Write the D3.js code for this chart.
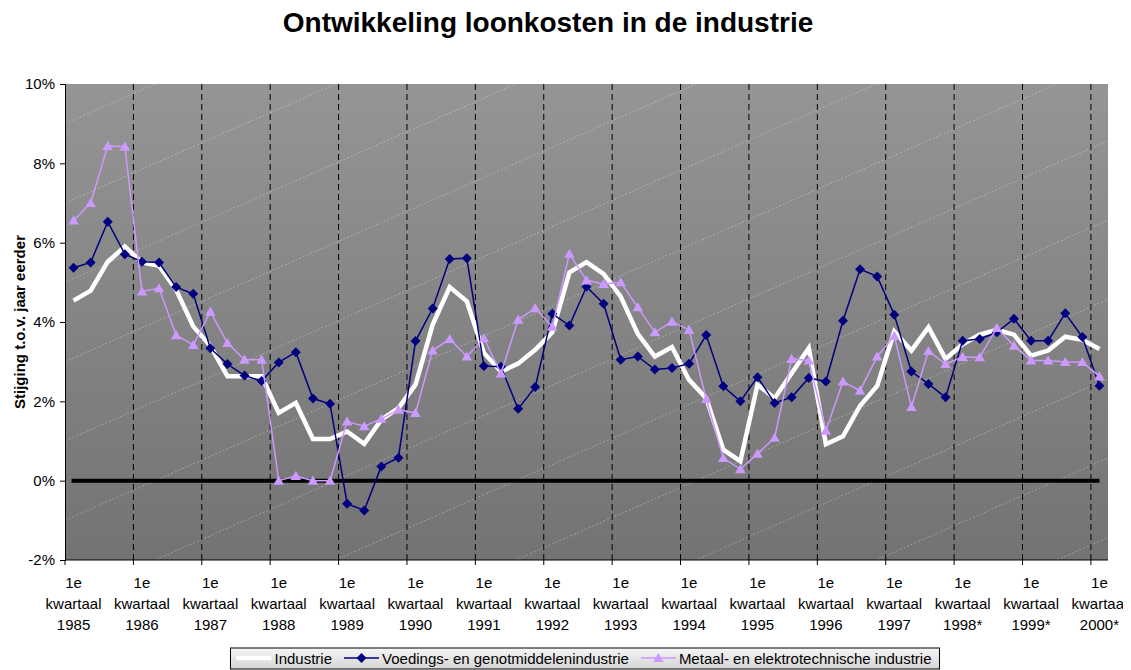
<!DOCTYPE html>
<html lang="nl">
<head>
<meta charset="UTF-8">
<title>Ontwikkeling loonkosten in de industrie</title>
<script src="https://cdnjs.cloudflare.com/ajax/libs/d3/7.8.5/d3.min.js"></script>
<style>
  html, body { margin: 0; padding: 0; background: #fff; }
  svg { display: block; font-family: "Liberation Sans", Arial, sans-serif; }
</style>
</head>
<body>
<svg id="chart" width="1131" height="670"></svg>
<script>
// --- data ---
const yearLabels = ["1985", "1986", "1987", "1988", "1989", "1990", "1991", "1992",
                    "1993", "1994", "1995", "1996", "1997", "1998*", "1999*", "2000*"];
const quarters = d3.range(61); // 1e kwartaal 1985 .. 1e kwartaal 2000

const industrie = [
  4.54, 4.79, 5.52, 5.90, 5.50, 5.42, 4.81, 3.89, 3.40, 2.63,
  2.63, 2.63, 1.71, 1.96, 1.05, 1.05, 1.24, 0.93, 1.54, 1.83,
  2.42, 3.93, 4.88, 4.52, 3.22, 2.75, 2.95, 3.30, 3.74, 5.25,
  5.51, 5.21, 4.64, 3.70, 3.13, 3.37, 2.54, 2.08, 0.78, 0.49,
  2.42, 2.08, 2.71, 3.34, 0.92, 1.12, 1.89, 2.39, 3.76, 3.28,
  3.87, 3.07, 3.44, 3.68, 3.80, 3.68, 3.15, 3.28, 3.63, 3.55, 3.32
];
const voedings = [
  5.37, 5.50, 6.53, 5.71, 5.52, 5.50, 4.88, 4.71, 3.34, 2.94,
  2.65, 2.51, 2.98, 3.24, 2.07, 1.94, -0.58, -0.75, 0.36, 0.58,
  3.52, 4.34, 5.59, 5.61, 2.89, 2.87, 1.81, 2.36, 4.21, 3.91,
  4.89, 4.46, 3.05, 3.13, 2.80, 2.84, 2.95, 3.67, 2.38, 2.00,
  2.61, 1.96, 2.10, 2.59, 2.50, 4.03, 5.33, 5.15, 4.18, 2.75,
  2.44, 2.10, 3.53, 3.57, 3.74, 4.08, 3.53, 3.53, 4.22, 3.62, 2.39
];
const metaal = [
  6.56, 7.00, 8.44, 8.42, 4.77, 4.85, 3.67, 3.42, 4.26, 3.47,
  3.05, 3.05, 0.00, 0.12, 0.00, 0.00, 1.49, 1.37, 1.56, 1.79,
  1.71, 3.28, 3.57, 3.13, 3.59, 2.70, 4.06, 4.35, 3.88, 5.72,
  5.05, 4.96, 5.00, 4.37, 3.74, 4.01, 3.80, 2.06, 0.57, 0.29,
  0.68, 1.08, 3.07, 3.03, 1.26, 2.50, 2.27, 3.13, 3.65, 1.86,
  3.27, 2.94, 3.12, 3.11, 3.85, 3.40, 3.03, 3.03, 2.99, 2.99, 2.63
];
const yTicks = [-2, 0, 2, 4, 6, 8, 10];

const series = [
  { name: "Industrie", values: industrie, color: "#ffffff", width: 4.5, marker: null },
  { name: "Voedings- en genotmiddelenindustrie", values: voedings, color: "#000080", width: 1.5, marker: "diamond" },
  { name: "Metaal- en elektrotechnische industrie", values: metaal, color: "#cc99ff", width: 1.5, marker: "triangle" }
];

// --- layout ---
const svg = d3.select("#chart");
const plotLeft = 65, plotRight = 1108, plotTop = 84, plotBottom = 560;
const fontSize = 15;

const x = d3.scaleBand().domain(quarters).range([plotLeft, plotRight]).padding(0);
const cx = i => x(i) + x.bandwidth() / 2;
const y = d3.scaleLinear().domain([-2, 10]).range([plotBottom, plotTop]);

const defs = svg.append("defs");
const bg = defs.append("linearGradient").attr("id", "plotbg")
  .attr("x1", 0).attr("y1", 0).attr("x2", 0).attr("y2", 1);
bg.append("stop").attr("offset", "0%").attr("stop-color", "#959595");
bg.append("stop").attr("offset", "100%").attr("stop-color", "#737373");

const lg = defs.append("linearGradient").attr("id", "legbg")
  .attr("x1", 0).attr("y1", 0).attr("x2", 0).attr("y2", 1);
lg.append("stop").attr("offset", "0%").attr("stop-color", "#f6f6f6");
lg.append("stop").attr("offset", "100%").attr("stop-color", "#d4d4d4");

defs.append("clipPath").attr("id", "plotclip")
  .append("rect").attr("x", plotLeft).attr("y", plotTop)
  .attr("width", plotRight - plotLeft).attr("height", plotBottom - plotTop);
defs.append("clipPath").attr("id", "labelclip")
  .append("rect").attr("x", 0).attr("y", 0).attr("width", 1123).attr("height", 670);

// title
svg.append("text")
  .attr("x", 548).attr("y", 32)
  .attr("text-anchor", "middle")
  .attr("font-size", 28).attr("font-weight", "bold")
  .text("Ontwikkeling loonkosten in de industrie");

// plot background
svg.append("rect")
  .attr("x", plotLeft).attr("y", plotTop)
  .attr("width", plotRight - plotLeft).attr("height", plotBottom - plotTop)
  .attr("fill", "url(#plotbg)");

// faint diagonal texture lines
const texture = svg.append("g").attr("clip-path", "url(#plotclip)");
d3.range(-14, 10, 2).forEach(p => {
  const y0 = y(p + 1);
  texture.append("line")
    .attr("x1", plotLeft).attr("y1", y0)
    .attr("x2", plotRight).attr("y2", y0 - 0.44 * (plotRight - plotLeft))
    .attr("stroke", "rgba(255,255,255,0.38)")
    .attr("stroke-width", 0.8)
    .attr("stroke-dasharray", "2,2");
});

// dashed vertical gridlines every year
const yearStarts = quarters.filter(i => i % 4 === 0 && i > 0);
svg.append("g").selectAll("line").data(yearStarts).join("line")
  .attr("x1", d => x(d)).attr("x2", d => x(d))
  .attr("y1", plotTop).attr("y2", plotBottom)
  .attr("stroke", "#000").attr("stroke-width", 1)
  .attr("stroke-dasharray", "6,4");

// y axis
const yAxis = svg.append("g")
  .attr("transform", `translate(${plotLeft},0)`)
  .call(d3.axisLeft(y).tickValues(yTicks).tickSize(5).tickPadding(5).tickFormat(d => d + "%"));
yAxis.select(".domain").attr("stroke", "#000");
yAxis.selectAll("text").attr("font-size", fontSize).attr("fill", "#000")
  .attr("font-family", "Liberation Sans, Arial, sans-serif");

// x axis line and tick marks at year boundaries
svg.append("line")
  .attr("x1", plotLeft).attr("x2", plotRight).attr("y1", plotBottom).attr("y2", plotBottom)
  .attr("stroke", "#000");
svg.append("g").selectAll("line").data(quarters.filter(i => i % 4 === 0)).join("line")
  .attr("x1", d => x(d)).attr("x2", d => x(d))
  .attr("y1", plotBottom).attr("y2", plotBottom + 5)
  .attr("stroke", "#000");

// x labels (first quarter of each year)
const xl = svg.append("g").attr("clip-path", "url(#labelclip)")
  .selectAll("text").data(yearLabels).join("text")
  .attr("x", (d, k) => cx(k * 4))
  .attr("y", 588)
  .attr("text-anchor", "middle")
  .attr("font-size", fontSize);
xl.append("tspan").attr("x", (d, k) => cx(k * 4)).attr("dy", 0).text("1e");
xl.append("tspan").attr("x", (d, k) => cx(k * 4)).attr("dy", 21).text("kwartaal");
xl.append("tspan").attr("x", (d, k) => cx(k * 4)).attr("dy", 21).text(d => d);

// y axis title
svg.append("text")
  .attr("transform", `translate(25,${(plotTop + plotBottom) / 2}) rotate(-90)`)
  .attr("text-anchor", "middle")
  .attr("font-size", fontSize).attr("font-weight", "bold")
  .text("Stijging t.o.v. jaar eerder");

// zero line
svg.append("line")
  .attr("x1", cx(0) - 2).attr("x2", cx(quarters.length - 1))
  .attr("y1", y(0)).attr("y2", y(0))
  .attr("stroke", "#000").attr("stroke-width", 4);

// series
const line = d3.line().x((d, i) => cx(i)).y(d => y(d));
const diamond = d3.symbol(d3.symbolSquare, 50);
const triangle = d3.symbol(d3.symbolTriangle, 48);

function drawMarker(sel, s) {
  if (s.marker === "diamond") {
    sel.attr("d", diamond).attr("transform", (d, i) => `translate(${cx(i)},${y(d)}) rotate(45)`);
  } else {
    sel.attr("d", triangle).attr("transform", (d, i) => `translate(${cx(i)},${y(d) + 1})`);
  }
  sel.attr("fill", s.color);
}

series.forEach(s => {
  svg.append("path")
    .datum(s.values)
    .attr("fill", "none")
    .attr("stroke", s.color)
    .attr("stroke-width", s.width)
    .attr("stroke-linejoin", "miter")
    .attr("d", line);
  if (s.marker) {
    svg.append("g").selectAll("path").data(s.values).join("path").call(drawMarker, s);
  }
});

// legend
const legend = svg.append("g");
const legBox = legend.append("rect")
  .attr("y", 648).attr("height", 21)
  .attr("fill", "url(#legbg)").attr("stroke", "#000").attr("stroke-width", 1);
let lx = 0;
const items = legend.append("g");
series.forEach(s => {
  const g = items.append("g").attr("transform", `translate(${lx},0)`);
  g.append("line").attr("x1", 4).attr("x2", 39).attr("y1", 658).attr("y2", 658)
    .attr("stroke", s.color).attr("stroke-width", s.marker ? 1.5 : 4.5);
  if (s.marker) {
    const m = g.append("path").datum(0);
    if (s.marker === "diamond") {
      m.attr("d", diamond).attr("transform", "translate(21.5,658) rotate(45)");
    } else {
      m.attr("d", triangle).attr("transform", "translate(21.5,659)");
    }
    m.attr("fill", s.color);
  }
  const t = g.append("text").attr("x", 42).attr("y", 664).attr("font-size", fontSize).text(s.name);
  lx += 42 + t.node().getComputedTextLength() + 8;
});
const legW = lx + 2;
const legX = 585 - legW / 2;
items.attr("transform", `translate(${legX + 2},0)`);
legBox.attr("x", legX).attr("width", legW);
</script>
</body>
</html>
